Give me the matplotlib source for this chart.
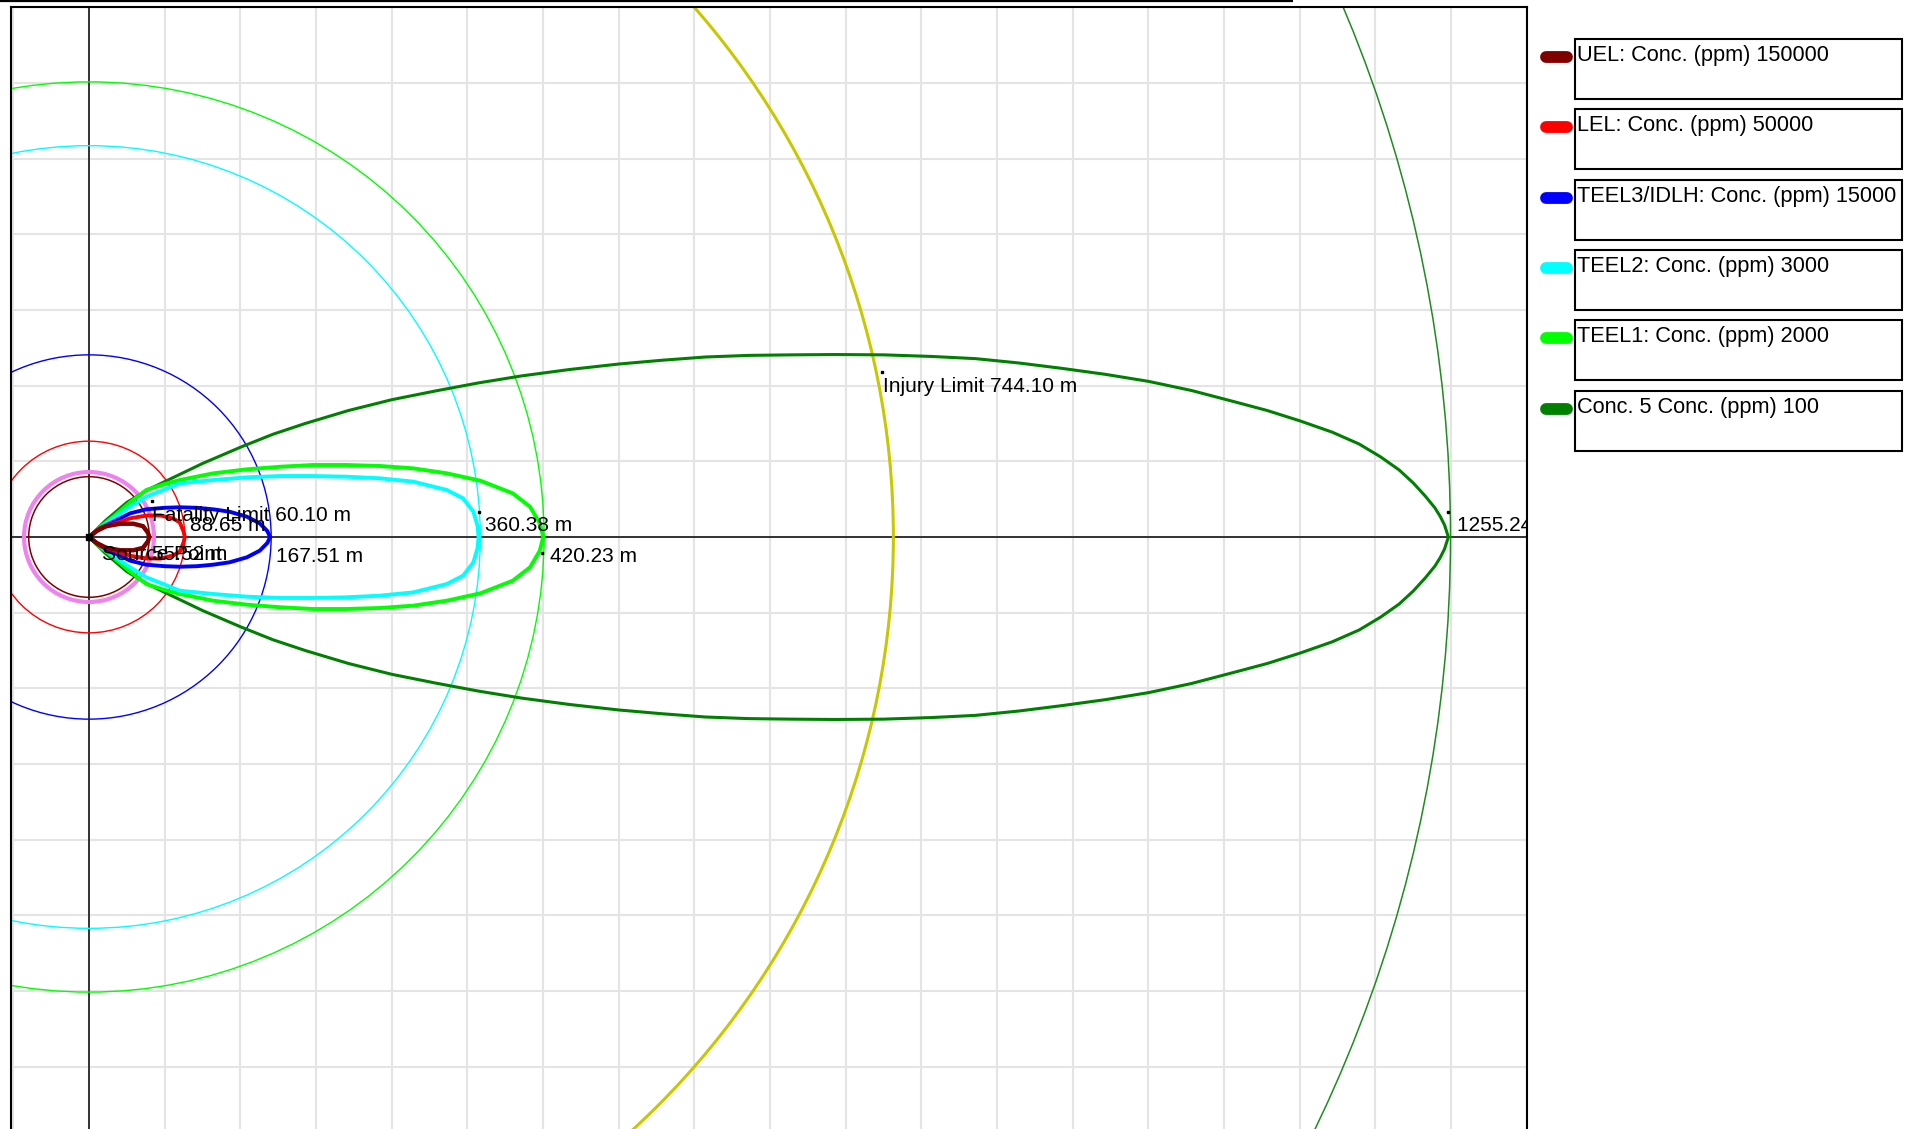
import matplotlib
matplotlib.use('Agg')
import matplotlib.pyplot as plt
import numpy as np
from matplotlib.patches import Rectangle, Circle
from matplotlib.ticker import MultipleLocator

# ---------------- data (metres) ----------------
# footprint half-widths (upper half; mirrored below)
uel_x = [0, 7, 16, 29, 41, 50, 54.5, 55.8]
uel_y = [0, 5.5, 10, 12.3, 12.3, 10, 4, 0]
lel_x = [0, 10, 22.5, 38, 53, 66, 78, 84, 87.5, 88.65]
lel_y = [0, 8, 12, 17.3, 19.8, 20, 17, 13.5, 5, 0]
teel3_x = [0, 10, 22.5, 38, 53, 70, 84, 100, 115, 130, 146, 158, 165, 167.51]
teel3_y = [0, 8, 14.2, 21.9, 25.6, 27, 27.5, 27, 25.6, 23.4, 18.8, 12.6, 5.5, 0]
teel2_x = [0, 10, 22.5, 38, 53, 70, 84, 115, 146, 177, 207, 238, 269, 300, 331, 346, 355.6, 359.5, 360.38]
teel2_y = [0, 8, 17.3, 28, 37.3, 44, 49.7, 52.7, 55.2, 56.4, 56.4, 55.8, 54.3, 51.2, 43.5, 35.8, 23.4, 10, 0]
teel1_x = [0, 10, 22.5, 38, 53, 70, 84, 115, 146, 177, 207, 238, 269, 300, 331, 362, 392, 408, 417, 420.23]
teel1_y = [0, 9, 18.8, 32, 43.5, 49, 52.7, 58.9, 62.6, 65, 66.6, 66.6, 65.7, 63.5, 58.9, 52.1, 40.4, 28, 12.7, 0]
conc5_x = [0, 15, 35, 55, 80, 105, 140, 170, 200, 240, 280, 320, 360, 400, 445, 490, 530, 570, 610,
           650, 690, 735, 780, 820, 860, 900, 940, 980, 1020, 1060, 1090, 1120, 1150, 1175, 1195,
           1212, 1225, 1236, 1245, 1250, 1254, 1257.5]
conc5_y = [0, 15, 32, 44, 56, 68, 83, 95, 105, 117, 127, 135, 142.5, 149, 155, 160, 163.5, 166.5, 168,
           168.5, 168.8, 168.5, 167, 165, 161, 156, 150.5, 144, 135.5, 125, 117, 107.5, 97, 86, 74,
           62, 50, 38, 27, 19, 11, 0]

footprints = [
    (conc5_x, conc5_y, '#008000', 2.2),
    (teel1_x, teel1_y, '#00FF00', 2.8),
    (teel2_x, teel2_y, '#00FFFF', 2.8),
    (teel3_x, teel3_y, '#0000FF', 2.8),
    (lel_x, lel_y, '#FF0000', 2.8),
    (uel_x, uel_y, '#800000', 3.2),
]

# distance circles
circle_r = [1259.5, 744.10, 421.0, 362.0, 168.5, 88.65, 60.10, 55.8]
circle_c = ['#1E8C1E', '#C8C800', '#00FF00', '#00FFFF', '#0000FF', '#FF0000', '#EE82EE', '#800000']
circle_lw = [1.1, 2.2, 1.0, 1.0, 1.0, 1.0, 3.0, 1.1]

# labels: text, x, y (baseline)
lab_text = ['Fatality Limit 60.10 m', '88.65 m', 'Source Point', '55.52 m', '167.51 m',
            '360.38 m', '420.23 m', '1255.24 m', 'Injury Limit 744.10 m']
lab_x = [58.0, 93.4, 11.7, 58.5, 173.0, 366.3, 426.5, 1265.2, 734.8]
lab_y = [15.0, 5.3, -21.0, -21.0, -22.8, 5.3, -22.8, 5.3, 134.4]
dot_x = [58.2, 360.8, 1257.2, 733.3, 418.8]
dot_y = [33.3, 23.1, 23.1, 152.9, -14.5]

legend_labels = ['UEL: Conc. (ppm) 150000', 'LEL: Conc. (ppm) 50000',
                 'TEEL3/IDLH: Conc. (ppm) 15000', 'TEEL2: Conc. (ppm) 3000',
                 'TEEL1: Conc. (ppm) 2000', 'Conc. 5 Conc. (ppm) 100']
legend_colors = ['#800000', '#FF0000', '#0000FF', '#00FFFF', '#00FF00', '#008000']

font = ['Liberation Sans', 'DejaVu Sans']

# ---------------- figure ----------------
W, H = 1921, 1129
fig = plt.figure(figsize=(W / 100, H / 100), dpi=100)
PX = 1.081          # pixels per metre
ox, oy = 89, 537    # origin pixel
lpx, rpx, tpx = 11, 1527, 7
ax = fig.add_axes([lpx / W, 0, (rpx - lpx) / W, (H - tpx) / H])
ax.set_xlim((lpx - ox) / PX, (rpx - ox) / PX)
ax.set_ylim(-(H - oy) / PX, (oy - tpx) / PX)
ax.xaxis.set_major_locator(MultipleLocator(70))
ax.yaxis.set_major_locator(MultipleLocator(70))
ax.grid(True, color='#E4E4E4', lw=1.5)
ax.set_axisbelow(True)
ax.tick_params(length=0, labelbottom=False, labelleft=False)
for s in ['top', 'left', 'right']:
    ax.spines[s].set_linewidth(1.5)
    ax.spines[s].set_color('black')
ax.spines['bottom'].set_visible(False)

ax.axhline(0, color='#333333', lw=1.4, zorder=1)
ax.axvline(0, color='#333333', lw=1.4, zorder=1)

for r, c, lw in zip(circle_r, circle_c, circle_lw):
    ax.add_patch(Circle((0, 0), r, fill=False, ec=c, lw=lw, zorder=2))

for fx, fy, c, lw in footprints:
    fx = np.asarray(fx, float)
    fy = np.asarray(fy, float)
    ax.plot(np.concatenate([fx, fx[::-1]]), np.concatenate([fy, -fy[::-1]]),
            color=c, lw=lw, zorder=3, solid_joinstyle='round')

ax.plot([0], [0], marker='s', ms=5, color='black', zorder=5)
ax.plot(dot_x, dot_y, ls='none', marker='s', ms=1.6, color='black', zorder=5)

for t, x, y in zip(lab_text, lab_x, lab_y):
    ax.text(x, y, t, fontsize=15, color='black', ha='left', va='baseline',
            zorder=6, clip_on=True, family=font)

# ---------------- overlay (pixel coords) ----------------
lax = fig.add_axes([0, 0, 1, 1], zorder=10)
lax.set_xlim(0, W)
lax.set_ylim(H, 0)
lax.axis('off')
lax.plot([0, 1293], [1, 1], color='black', lw=1.6, solid_capstyle='butt')
for i, (lab, col) in enumerate(zip(legend_labels, legend_colors)):
    top = 39 + i * 70.3
    lax.add_patch(Rectangle((1575, top), 327, 60, fill=False, ec='black', lw=1.5))
    lax.plot([1546, 1567], [top + 18, top + 18], color=col, lw=8.5, solid_capstyle='round')
    lax.text(1577, top + 22, lab, fontsize=15.7, family=font, ha='left', va='baseline',
             color='black')

fig.savefig('out.png', dpi=100)
